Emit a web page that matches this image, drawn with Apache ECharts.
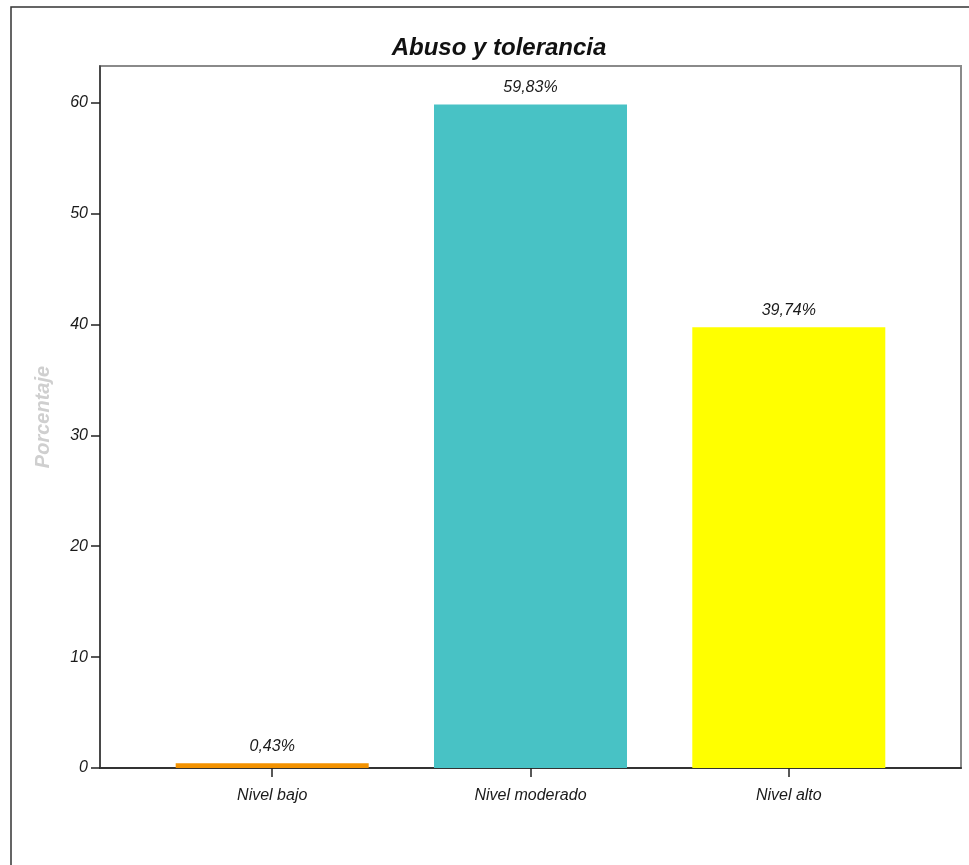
<!DOCTYPE html>
<html>
<head>
<meta charset="utf-8">
<script src="https://cdn.jsdelivr.net/npm/echarts@6/dist/echarts.min.js"></script>
<style>
  html, body { margin: 0; padding: 0; background: #fff; }
  #chart { width: 969px; height: 865px; }
</style>
</head>
<body>
<div id="chart"></div>
<script>
// Distribución por nivel de abuso y tolerancia
const titleText = 'Abuso y tolerancia';
const yAxisName = 'Porcentaje';
const categories = ['Nivel bajo', 'Nivel moderado', 'Nivel alto'];
const percentages = [0.43, 59.83, 39.74];
const barColors = ['#F39200', '#48C2C5', '#FFFF00'];
const yTicks = [0, 10, 20, 30, 40, 50, 60];

const FONT = '"Liberation Sans", Arial, sans-serif';
const chart = echarts.init(document.getElementById('chart'), null, { renderer: 'canvas' });

const seriesData = categories.map((name, i) => ({
  value: [i, percentages[i]],
  itemStyle: { color: barColors[i] }
}));

chart.setOption({
  animation: false,
  backgroundColor: '#ffffff',
  title: {
    text: titleText,
    left: 494,
    textAlign: 'center',
    top: 31,
    textStyle: { fontFamily: FONT, fontSize: 24, fontWeight: 'bold', fontStyle: 'italic', color: '#111' }
  },
  graphic: [{
    type: 'rect',
    shape: { x: 11, y: 7, width: 1000, height: 1000 },
    style: { fill: 'none', stroke: '#333', lineWidth: 1.5 },
    silent: true
  }],
  grid: {
    left: 100, right: 8, top: 66, bottom: 97,
    show: true, borderColor: '#8a8a8a', borderWidth: 2
  },
  xAxis: {
    type: 'value',
    min: -2 / 3,
    max: 8 / 3,
    splitLine: { show: false },
    axisLine: { show: true, onZero: false, lineStyle: { color: '#333', width: 2 } },
    axisTick: { show: true, customValues: [0, 1, 2], length: 9, lineStyle: { color: '#222', width: 1.5 } },
    axisLabel: {
      customValues: [0, 1, 2],
      formatter: v => categories[Math.round(v)],
      margin: 20,
      fontFamily: FONT, fontSize: 16, fontStyle: 'italic', color: '#1a1a1a'
    }
  },
  yAxis: {
    type: 'value',
    min: 0,
    max: 63.3,
    name: yAxisName,
    nameLocation: 'middle',
    nameGap: 47,
    nameTextStyle: { fontFamily: FONT, fontSize: 20, fontWeight: 'bold', fontStyle: 'italic', color: '#cfcfcf' },
    splitLine: { show: false },
    axisLine: { show: true, onZero: false, lineStyle: { color: '#333', width: 1.5 } },
    axisTick: { show: true, customValues: yTicks, length: 9, lineStyle: { color: '#222', width: 1.5 } },
    axisLabel: {
      customValues: yTicks,
      margin: 12,
      fontFamily: FONT, fontSize: 16, fontStyle: 'italic', color: '#1a1a1a'
    }
  },
  series: [{
    type: 'bar',
    data: seriesData,
    barWidth: 193,
    label: {
      show: true,
      position: 'top',
      distance: 9,
      formatter: p => p.value[1].toFixed(2).replace('.', ',') + '%',
      fontFamily: FONT, fontSize: 16, fontStyle: 'italic', color: '#1a1a1a'
    }
  }]
});
</script>
</body>
</html>
